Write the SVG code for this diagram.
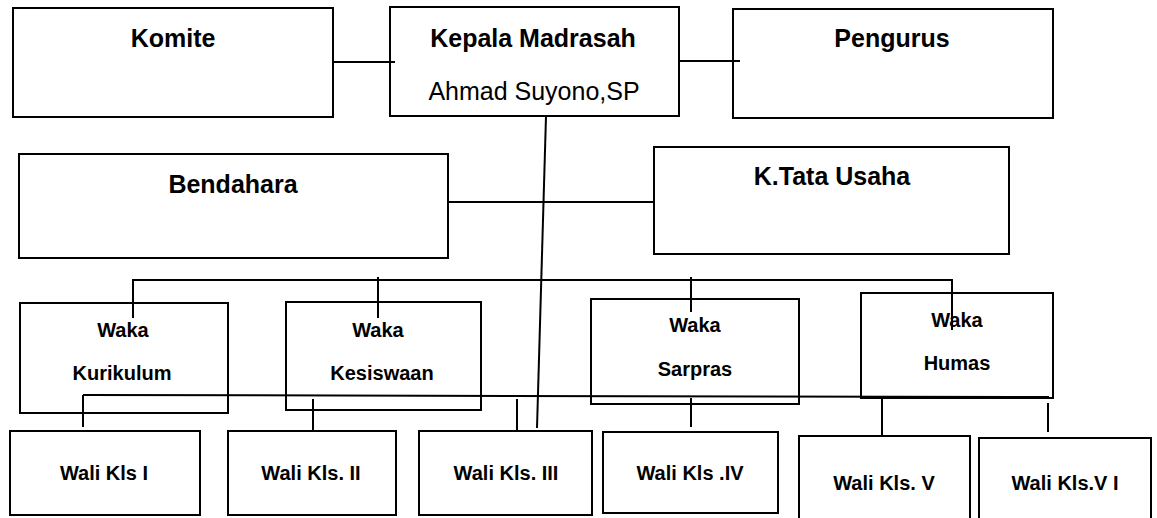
<svg xmlns="http://www.w3.org/2000/svg" width="1157" height="518" viewBox="0 0 1157 518">
<style>
.box{fill:#fff;stroke:#000;stroke-width:2}
.ln{stroke:#000;stroke-width:2;fill:none}
.t1{font-family:"Liberation Sans",Arial,sans-serif;font-weight:bold;font-size:25px;text-anchor:middle;fill:#000}
.t1r{font-family:"Liberation Sans",Arial,sans-serif;font-size:25px;text-anchor:middle;fill:#000}
.t2{font-family:"Liberation Sans",Arial,sans-serif;font-weight:bold;font-size:20px;text-anchor:middle;fill:#000}
.t3{font-family:"Liberation Sans",Arial,sans-serif;font-weight:bold;font-size:20px;text-anchor:middle;fill:#000}
</style>
<rect width="1157" height="518" fill="#fff"/>
<g id="komite"><rect class="box" x="13" y="8" width="320" height="109"/><text class="t1" x="173" y="47">Komite</text></g>
<g id="kepala"><rect class="box" x="390" y="7" width="289" height="109"/><text class="t1" x="533" y="47">Kepala Madrasah</text><text class="t1r" x="534" y="100">Ahmad Suyono,SP</text></g>
<g id="pengurus"><rect class="box" x="733" y="9" width="320" height="109"/><text class="t1" x="892" y="47">Pengurus</text></g>
<g id="bendahara"><rect class="box" x="19" y="154" width="429" height="104"/><text class="t1" x="233" y="193">Bendahara</text></g>
<g id="tatausaha"><rect class="box" x="654" y="147" width="355" height="107"/><text class="t1" x="832" y="185">K.Tata Usaha</text></g>
<g id="waka-kurikulum"><rect class="box" x="20" y="303" width="208" height="110"/><text class="t2" x="123" y="337">Waka</text><text class="t2" x="122" y="380">Kurikulum</text></g>
<g id="waka-kesiswaan"><rect class="box" x="286" y="302" width="195" height="108"/><text class="t2" x="378" y="337">Waka</text><text class="t2" x="382" y="380">Kesiswaan</text></g>
<g id="waka-sarpras"><rect class="box" x="591" y="299" width="208" height="105"/><text class="t2" x="695" y="332">Waka</text><text class="t2" x="695" y="376">Sarpras</text></g>
<g id="waka-humas"><rect class="box" x="861" y="293" width="192" height="105"/><text class="t2" x="957" y="327">Waka</text><text class="t2" x="957" y="370">Humas</text></g>
<g id="wali1"><rect class="box" x="10" y="431" width="190" height="84"/><text class="t3" x="104" y="480">Wali Kls I</text></g>
<g id="wali2"><rect class="box" x="228" y="431" width="168" height="84"/><text class="t3" x="311" y="480">Wali Kls. II</text></g>
<g id="wali3"><rect class="box" x="419" y="431" width="173" height="84"/><text class="t3" x="506" y="480">Wali Kls. III</text></g>
<g id="wali4"><rect class="box" x="603" y="432" width="175" height="81"/><text class="t3" x="690" y="480">Wali Kls .IV</text></g>
<g id="wali5"><rect class="box" x="799" y="436" width="171" height="90"/><text class="t3" x="884" y="490">Wali Kls. V</text></g>
<g id="wali6"><rect class="box" x="979" y="438" width="172" height="90"/><text class="t3" x="1065" y="490">Wali Kls.V I</text></g>
<g id="connectors">
<line class="ln" x1="333" y1="62" x2="395" y2="62"/>
<line class="ln" x1="679" y1="61" x2="740" y2="61"/>
<line class="ln" x1="448" y1="202" x2="654" y2="202"/>
<line class="ln" x1="546" y1="116" x2="537" y2="428"/>
<polyline class="ln" points="133,318 133,280 952,280 952,330"/>
<line class="ln" x1="378" y1="277" x2="378" y2="318"/>
<line class="ln" x1="691" y1="277" x2="691" y2="312"/>
<line class="ln" x1="83" y1="395" x2="1049" y2="397"/>
<line class="ln" x1="83" y1="395" x2="83" y2="427"/>
<line class="ln" x1="313" y1="399" x2="313" y2="432"/>
<line class="ln" x1="517" y1="399" x2="517" y2="430"/>
<line class="ln" x1="691" y1="398" x2="691" y2="427"/>
<line class="ln" x1="882" y1="398" x2="882" y2="435"/>
<line class="ln" x1="1048" y1="403" x2="1048" y2="432"/>
</g>
</svg>
